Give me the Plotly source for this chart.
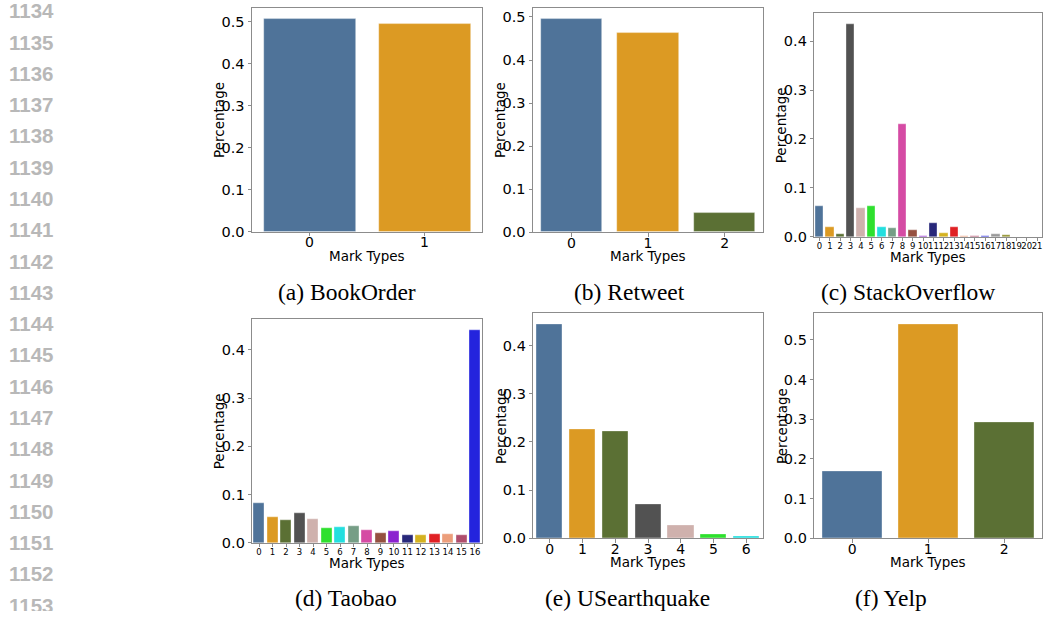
import plotly.graph_objects as go

W, H = 1043, 619

# ---------------- data ----------------
bookorder_vals = [0.506, 0.494]
retweet_vals = [0.495, 0.462, 0.046]
stackoverflow_vals = [0.062, 0.020, 0.006, 0.435, 0.058, 0.062, 0.020, 0.018, 0.230, 0.013,
                      0.002, 0.028, 0.008, 0.019, 0.002, 0.0008, 0.002, 0.005, 0.003, 0.0005,
                      0.0004, 0.0003]
taobao_vals = [0.082, 0.0525, 0.0464, 0.0607, 0.0497, 0.0307, 0.032, 0.034, 0.026, 0.021,
               0.025, 0.0157, 0.0164, 0.0177, 0.019, 0.0157, 0.4417]
usearthquake_vals = [0.4447, 0.2254, 0.2213, 0.0697, 0.0266, 0.0082, 0.0041]
yelp_vals = [0.168, 0.540, 0.292]

captions = ["(a) BookOrder", "(b) Retweet", "(c) StackOverflow",
            "(d) Taobao", "(e) USearthquake", "(f) Yelp"]
line_numbers = [str(n) for n in range(1134, 1154)]

palette = ["#4f7399", "#dc9a23", "#5b7034", "#525252", "#cfb1ad", "#2ee02e", "#23dfdf",
           "#769e86", "#d54ba4", "#955040", "#8b23cf", "#28287a", "#d4b220", "#e02124",
           "#ec9e7b", "#b04e6d", "#2424dd", "#999999", "#8f8f2a", "#c0c0c0", "#c0c0c0",
           "#c0c0c0"]

# ---------------- layout geometry (pixels) ----------------
panels = [
    dict(vals=bookorder_vals, box=(252, 482, 8, 235), ymax=0.533, yt=6, xfs=14, cap=(347, 296)),
    dict(vals=retweet_vals, box=(533, 763, 8, 235.3), ymax=0.521, yt=6, xfs=14, cap=(629, 296)),
    dict(vals=stackoverflow_vals, box=(814.3, 1042.3, 13.3, 240), ymax=0.457, yt=5, xfs=8.5, cap=(908, 296)),
    dict(vals=taobao_vals, box=(252.3, 481.7, 323.3, 550), ymax=0.4635, yt=5, xfs=8.5, cap=(346, 606)),
    dict(vals=usearthquake_vals, box=(533.3, 762.7, 317.3, 545.3), ymax=0.467, yt=5, xfs=14, cap=(627, 606)),
    dict(vals=yelp_vals, box=(814.3, 1042.3, 317.3, 545.3), ymax=0.567, yt=6, xfs=14, cap=(891, 606)),
]

fig = go.Figure()
annotations = []
layout_axes = {}
spine = "#8c8c8c"
font_main = "DejaVu Sans"

for i, p in enumerate(panels):
    n = len(p["vals"])
    idx = i + 1
    xa = "x" if idx == 1 else f"x{idx}"
    ya = "y" if idx == 1 else f"y{idx}"
    cats = list(range(n))
    fig.add_trace(go.Bar(
        x=cats, y=p["vals"], width=0.8,
        marker=dict(color=palette[:n], line=dict(width=0.6, color="rgba(255,255,255,0.6)")),
        xaxis=xa, yaxis=ya, showlegend=False, hoverinfo="x+y",
    ))
    l, r, t, b = p["box"]
    xkey = "xaxis" if idx == 1 else f"xaxis{idx}"
    ykey = "yaxis" if idx == 1 else f"yaxis{idx}"
    layout_axes[xkey] = dict(
        domain=[l / W, r / W], anchor=ya, range=[-0.5, n - 0.5],
        tickmode="array", tickvals=cats, ticktext=[str(c) for c in cats],
        ticks="outside", ticklen=3.5, tickwidth=1, tickcolor=spine,
        showline=True, linecolor=spine, linewidth=1, mirror=True,
        showgrid=False, zeroline=False, tickangle=0,
        ticklabelstandoff=-6 if p["xfs"] > 10 else -3,
        tickfont=dict(family=font_main, size=p["xfs"], color="#000000"),
        fixedrange=True,
    )
    yticks = [round(0.1 * k, 1) for k in range(p["yt"])]
    layout_axes[ykey] = dict(
        domain=[1 - b / H, 1 - t / H], anchor=xa, range=[0, p["ymax"]],
        tickmode="array", tickvals=yticks, ticktext=[f"{v:.1f}" for v in yticks],
        ticks="outside", ticklen=3.5, tickwidth=1, tickcolor=spine,
        showline=True, linecolor=spine, linewidth=1, mirror=True,
        showgrid=False, zeroline=False,
        tickfont=dict(family=font_main, size=14.5, color="#000000"),
        fixedrange=True,
    )
    xt_off = 20 if p["xfs"] < 10 else 24.5
    annotations.append(dict(
        text="Mark Types", x=(l + r) / 2 / W, y=1 - (b + xt_off) / H,
        xref="paper", yref="paper", xanchor="center", yanchor="middle",
        showarrow=False, font=dict(family=font_main, size=13.5, color="#000000"),
    ))
    annotations.append(dict(
        text="Percentage", x=(l - 33) / W, y=1 - ((t + b) / 2) / H,
        xref="paper", yref="paper", xanchor="center", yanchor="middle", textangle=-90,
        showarrow=False, font=dict(family=font_main, size=13.5, color="#000000"),
    ))
    cx, cy = p["cap"]
    annotations.append(dict(
        text=captions[i], x=cx / W, y=1 - cy / H,
        xref="paper", yref="paper", xanchor="center", yanchor="middle",
        showarrow=False, font=dict(family="Liberation Serif", size=23.5, color="#000000"),
    ))

# line numbers: text trace on a full-page overlay axis (clipped at the page edge)
ln_x = [53.5] * len(line_numbers)
ln_y = [13.3 + 31.7 * k for k in range(len(line_numbers))]
fig.add_trace(go.Scatter(
    x=ln_x, y=ln_y, text=line_numbers, mode="text", textposition="middle left",
    textfont=dict(family="Liberation Sans", size=20.5, color="#b8b8b8", weight="bold"),
    xaxis="x7", yaxis="y7", showlegend=False, hoverinfo="skip", cliponaxis=True,
))
layout_axes["xaxis7"] = dict(domain=[0, 1], range=[0, W], visible=False, fixedrange=True,
                             anchor="y7")
layout_axes["yaxis7"] = dict(domain=[0, 1], range=[H, 0], visible=False, fixedrange=True,
                             anchor="x7")

fig.update_layout(
    width=W, height=H, margin=dict(l=0, r=0, t=0, b=0),
    paper_bgcolor="white", plot_bgcolor="rgba(0,0,0,0)",
    annotations=annotations, bargap=0, **layout_axes,
)

post = (
    "document.documentElement.style.margin='0px';"
    "document.documentElement.style.overflow='hidden';"
    "document.body.style.margin='0px';document.body.style.overflow='hidden';"
)
fig.write_html("out.html", config={"displayModeBar": False}, post_script=post)
